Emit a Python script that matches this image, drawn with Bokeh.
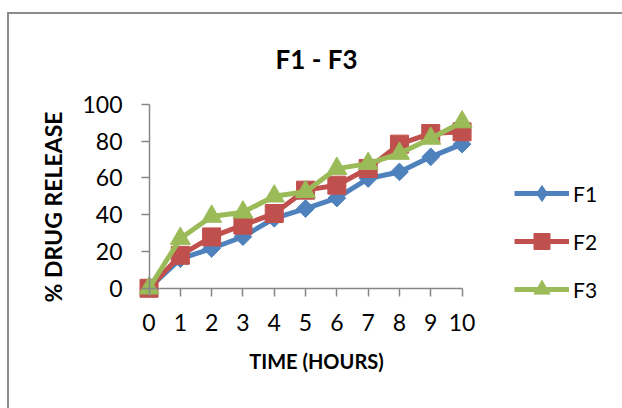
import math
from bokeh.plotting import figure
from bokeh.models import Range1d, FixedTicker, Legend, LegendItem, LinearAxis
from bokeh.embed import file_html
from bokeh.resources import INLINE

hours = [0, 1, 2, 3, 4, 5, 6, 7, 8, 9, 10]
f1 = [0, 16, 21.6, 28, 38, 43.3, 49, 59.6, 63.2, 71.4, 78.3]
f2 = [0, 17.9, 27.9, 34.3, 40.6, 53.3, 56, 65.1, 78.3, 84.1, 85]
f3 = [0, 27, 39, 41.3, 50, 52.4, 65, 67.7, 73.2, 81.4, 90.3]
y_ticks = [0, 20, 40, 60, 80, 100]

FONT = "Lato"
AXIS_COLOR = "#868686"
NAN = float("nan")

p = figure(frame_width=360, frame_height=213,
           x_range=Range1d(-0.4, 11.1), y_range=Range1d(-13.7, 102),
           output_backend="svg", toolbar_location=None,
           min_border_left=127, min_border_top=86, min_border_right=126, min_border_bottom=95,
           margin=(12, 0, 0, 7))
p.styles = {"border-left": "2px solid #8c8c8c", "border-top": "2px solid #8c8c8c"}
p.background_fill_color = "white"
p.border_fill_color = "white"
p.outline_line_color = None
p.grid.visible = False

p.title.text = "F1 - F3"
p.title.align = "center"
p.title.text_font = FONT
p.title.text_font_size = "26px"
p.title.text_font_style = "bold"
p.title.text_color = "black"
p.title.standoff = 52
p.title.offset = 0

series = [("F1", f1, "#4F81BD", "square", 12.5, math.pi / 4, "diamond"),
          ("F2", f2, "#C0504D", "square", 18, 0, "square"),
          ("F3", f3, "#9BBB59", "triangle", 20, 0, "triangle")]
items = []
for name, ys, color, marker, size, ang, legend_marker in series:
    ln = p.line(hours, ys, line_color=color, line_width=5)
    sc = p.scatter(hours, ys, marker=marker, size=size, angle=ang,
                   fill_color=color, line_color=color)
    if legend_marker == marker and ang == 0:
        key = sc
    else:
        # legend-only key glyph (draws nothing on the chart)
        key = p.scatter(x=[NAN], y=[NAN], marker=legend_marker, size=size,
                        fill_color=color, line_color=color)
    items.append(LegendItem(label=name, renderers=[ln, key]))

# label-only axes in the side panels
xa = p.xaxis[0]
ya = p.yaxis[0]
xa.ticker = FixedTicker(ticks=hours)
ya.ticker = FixedTicker(ticks=y_ticks)
for ax in (xa, ya):
    ax.axis_line_color = None
    ax.major_tick_line_color = None
    ax.major_tick_in = 0
    ax.major_tick_out = 0
    ax.minor_tick_line_color = None
    ax.major_label_text_font = FONT
    ax.major_label_text_font_size = "23px"
    ax.major_label_text_color = "black"
    ax.axis_label_text_font = FONT
    ax.axis_label_text_font_style = "bold"
    ax.axis_label_text_color = "black"
xa.axis_label = "TIME (HOURS)"
ya.axis_label = "% DRUG RELEASE"
xa.axis_label_text_font_size = "20px"
ya.axis_label_text_font_size = "23px"
xa.major_label_standoff = 0
ya.major_label_standoff = 14
xa.axis_label_standoff = 15
ya.axis_label_standoff = 12

# line-and-tick axes crossing at zero
xfix = LinearAxis(fixed_location=0, ticker=FixedTicker(ticks=hours), bounds=(0, 10))
yfix = LinearAxis(fixed_location=0, ticker=FixedTicker(ticks=y_ticks), bounds=(0, 100))
for ax in (xfix, yfix):
    ax.axis_line_color = AXIS_COLOR
    ax.axis_line_width = 1.5
    ax.major_tick_line_color = AXIS_COLOR
    ax.major_tick_line_width = 1.5
    ax.major_tick_in = 0
    ax.major_tick_out = 8
    ax.minor_tick_line_color = None
    ax.major_label_text_color = None
    ax.major_label_text_font_size = "1px"
    ax.major_label_standoff = 0
p.add_layout(xfix, "below")
p.add_layout(yfix, "left")

legend = Legend(items=items, location=(18, 4))
legend.glyph_width = 55
legend.glyph_height = 40
legend.spacing = 8
legend.padding = 0
legend.margin = 0
legend.label_standoff = 4
legend.border_line_color = None
legend.background_fill_alpha = 0
legend.label_text_font = FONT
legend.label_text_font_size = "21px"
legend.label_text_color = "black"
p.add_layout(legend, "right")

open("out.html", "w").write(file_html(p, INLINE))
